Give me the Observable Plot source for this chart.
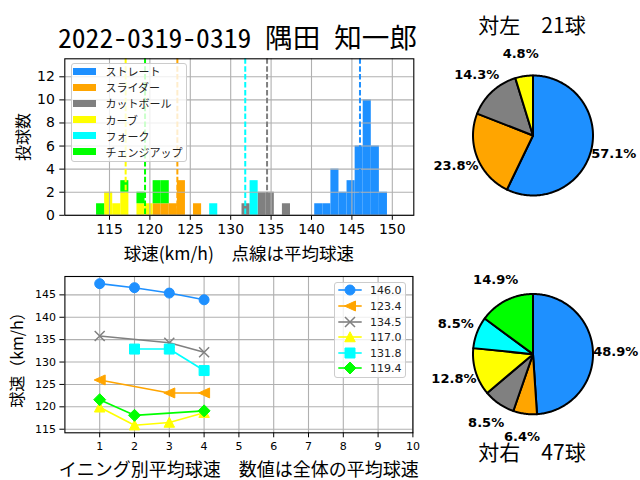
<!DOCTYPE html>
<html><head><meta charset="utf-8">
<script src="https://cdn.jsdelivr.net/npm/d3@7"></script>
<script src="https://cdn.jsdelivr.net/npm/@observablehq/plot@0.6"></script>
<style>
body{margin:0;background:#fff;}
#wrap{position:relative;width:640px;height:480px;overflow:hidden;font-family:"Noto Sans CJK JP",sans-serif;color:#000;}
#wrap > svg{position:absolute;left:0;top:0;}
.abs{position:absolute;white-space:nowrap;line-height:1;}
</style></head><body><div id="wrap"></div>
<script>
// ---------- data ----------
const pitchTypes = ["ストレート","スライダー","カットボール","カーブ","フォーク","チェンジアップ"];
const pitchColors = ["#1e90ff","#ffa500","#808080","#ffff00","#00ffff","#00ff00"];

// pitch speeds (km/h)
const straightSpeeds = [140.9,141.9,142.9,142.9,142.9,142.9,143.9,143.9,144.9,144.9,144.9,
  145.9,145.9,145.9,145.9,145.9,145.9,146.9,146.9,146.9,146.9,146.9,146.9,146.9,146.9,146.9,146.9,
  147.9,147.9,147.9,147.9,147.9,147.9,148.9,148.9];
const sliderSpeeds = [120.9,121.9,122.9,123.9,123.9,123.9,125.9];
const cutterSpeeds = [131.9,133.9,133.9,134.9,134.9,136.9];
const curveSpeeds = [114.9,114.9,115.9,116.9,116.9,118.9,119.9];
const forkSpeeds = [127.9,132.9,132.9,132.9];
const changeupSpeeds = [113.9,116.9,118.9,120.9,120.9,121.9,121.9];

// average speed per pitch (legend values / dashed lines)
const meanSpeeds = [146.0,123.4,134.5,117.0,131.8,119.4];

// average speed by inning (null = not thrown)
const innings = [1,2,3,4];
const straightByInning = [147.5,146.6,145.4,143.9];
const sliderByInning = [126.0,null,123.1,123.1];
const cutterByInning = [135.8,null,134.3,132.2];
const curveByInning = [119.9,115.9,116.5,118.7];
const forkByInning = [null,132.9,132.9,128.1];
const changeupByInning = [121.6,118.1,null,119.1];

// pitch counts vs left / right batters
const vsLeftCounts = [12,5,3,1,0,0];
const vsRightCounts = [23,3,4,6,4,7];

// ticks
const histXTicks = [115,120,125,130,135,140,145,150];
const histYTicks = [0,2,4,6,8,10,12];
const inningTicks = [1,2,3,4,5,6,7,8,9,10];
const speedTicks = [115,120,125,130,135,140,145];

// texts
const titleText = "2022-0319-0319 隅田 知一郎";
const histXLabel = "球速(km/h)　点線は平均球速";
const histYLabel = "投球数";
const lineXLabel = "イニング別平均球速　数値は全体の平均球速";
const lineYLabel = "球速（km/h）";
const leftPieTitle = "対左　21球";
const rightPieTitle = "対右　47球";

// ---------- build ----------
const wrap = document.getElementById("wrap");
const speedLists = [straightSpeeds,sliderSpeeds,cutterSpeeds,curveSpeeds,forkSpeeds,changeupSpeeds];
const inningLists = [straightByInning,sliderByInning,cutterByInning,curveByInning,forkByInning,changeupByInning];

const histRows = [];
pitchTypes.forEach((t,i)=>speedLists[i].forEach(v=>histRows.push({type:t, speed:v})));
const meanRows = pitchTypes.map((t,i)=>({type:t, mean:meanSpeeds[i]}));
const binEdges = d3.range(113.4, 149.45, 1);

const layerStyle = {background:"none", overflow:"visible", color:"black"};

const hist = Plot.plot({
  width:640, height:480,
  marginLeft:64.3, marginRight:226.7, marginTop:58.3, marginBottom:265.2,
  x:{domain:[109.47,152.66], ticks:histXTicks, tickSize:5, tickPadding:4, label:null},
  y:{domain:[0,13.56], ticks:histYTicks, tickSize:5, tickPadding:5, label:null},
  color:{domain:pitchTypes, range:pitchColors},
  style:{...layerStyle, background:"white", fontFamily:"DejaVu Sans", fontSize:"14px"},
  marks:[
    Plot.rectY(histRows, Plot.binX({y:"count"}, {x:"speed", fill:"type", thresholds:binEdges, domain:[113.4,149.4], inset:0})),
    Plot.ruleX(histXTicks, {stroke:"#b0b0b0", strokeWidth:1.1}),
    Plot.ruleY(histYTicks, {stroke:"#b0b0b0", strokeWidth:1.1}),
    Plot.ruleX(meanRows, {x:"mean", stroke:"type", strokeWidth:2, strokeDasharray:"5.5,2.4"}),
    Plot.frame({stroke:"black", strokeWidth:1.1})
  ]
});
wrap.appendChild(hist);

// custom symbols (r in px from area)
function mk(fn){ return {draw(c,size){ fn(c, Math.sqrt(size/Math.PI)); }}; }
const symLeft = mk((c,r)=>{c.moveTo(-r*1.1,0);c.lineTo(r*1.1,-r);c.lineTo(r*1.1,r);c.closePath();});
const symUp = mk((c,r)=>{c.moveTo(0,-r*1.05);c.lineTo(r*1.05,r*0.95);c.lineTo(-r*1.05,r*0.95);c.closePath();});
const symSquare = mk((c,r)=>{c.moveTo(-r,-r);c.lineTo(r,-r);c.lineTo(r,r);c.lineTo(-r,r);c.closePath();});
const symDiamond = mk((c,r)=>{const d=r*1.2;c.moveTo(0,-d);c.lineTo(d,0);c.lineTo(0,d);c.lineTo(-d,0);c.closePath();});
const symTimes = mk((c,r)=>{c.moveTo(-r,-r);c.lineTo(r,r);c.moveTo(-r,r);c.lineTo(r,-r);});
const symCircle = mk((c,r)=>{c.moveTo(r,0);c.arc(0,0,r,0,2*Math.PI);});
const pitchSymbols = [symCircle,symLeft,symTimes,symUp,symSquare,symDiamond];
const strokedOnly = [false,false,true,false,false,false];

const lineRows = [];
pitchTypes.forEach((t,i)=>innings.forEach((n,j)=>{const v=inningLists[i][j]; if(v!=null) lineRows.push({type:t, idx:i, inning:n, speed:v});}));

const lineMarks = [
  Plot.ruleX(inningTicks, {stroke:"#b0b0b0", strokeWidth:1.1}),
  Plot.ruleY(speedTicks, {stroke:"#b0b0b0", strokeWidth:1.1})
];
pitchTypes.forEach((t,i)=>{
  const rows = lineRows.filter(d=>d.idx===i);
  lineMarks.push(Plot.line(rows, {x:"inning", y:"speed", stroke:pitchColors[i], strokeWidth:1.6}));
  if (strokedOnly[i]) lineMarks.push(Plot.dot(rows, {x:"inning", y:"speed", symbol:pitchSymbols[i], r:5, stroke:pitchColors[i], strokeWidth:1.5, fill:"none"}));
  else lineMarks.push(Plot.dot(rows, {x:"inning", y:"speed", symbol:pitchSymbols[i], r:5, fill:pitchColors[i], stroke:pitchColors[i], strokeWidth:1}));
});
lineMarks.push(Plot.frame({stroke:"black", strokeWidth:1.1}));

const lineChart = Plot.plot({
  width:640, height:480,
  marginLeft:64.4, marginRight:227.6, marginTop:276, marginBottom:47.7,
  x:{domain:[0,10], ticks:inningTicks, tickSize:5, tickPadding:4, label:null},
  y:{domain:[114.2,149.1], ticks:speedTicks, tickSize:5, tickPadding:4, label:null},
  style:{...layerStyle, fontFamily:"DejaVu Sans", fontSize:"11px"},
  marks:lineMarks
});
wrap.appendChild(lineChart);

// pies
function pieData(counts){
  const total = d3.sum(counts); let cum = 0; const rows=[], labels=[];
  counts.forEach((c,i)=>{
    if(!c) return;
    const a0 = Math.PI/2 - cum/total*2*Math.PI; cum += c;
    const a1 = Math.PI/2 - cum/total*2*Math.PI;
    const n = Math.max(2, Math.ceil((a0-a1)/(Math.PI/180)));
    rows.push({slice:i, color:pitchColors[i], x:0, y:0});
    for(let k=0;k<=n;k++){const a=a0+(a1-a0)*k/n; rows.push({slice:i, color:pitchColors[i], x:Math.cos(a), y:Math.sin(a)});}
    rows.push({slice:i, color:pitchColors[i], x:0, y:0});
    const am=(a0+a1)/2;
    labels.push({x:1.38*Math.cos(am), y:1.38*Math.sin(am), text:(c/total*100).toFixed(1)+"%"});
  });
  return {rows, labels};
}
function pie(counts, top, bottom){
  const {rows, labels} = pieData(counts);
  return Plot.plot({
    width:640, height:480,
    marginLeft:472.5, marginRight:47.5, marginTop:top, marginBottom:480-bottom,
    x:{domain:[-1,1], axis:null}, y:{domain:[-1,1], axis:null},
    color:{type:"identity"},
    style:{...layerStyle, fontFamily:"DejaVu Sans"},
    marks:[
      Plot.line(rows, {x:"x", y:"y", z:"slice", fill:"color", stroke:"black", strokeWidth:2, strokeLinejoin:"round", strokeLinecap:"round"}),
      Plot.text(labels, {x:"x", y:"y", text:"text", fontSize:13, fontWeight:"bold", fill:"black"})
    ]
  });
}
wrap.appendChild(pie(vsLeftCounts, 75, 195));
wrap.appendChild(pie(vsRightCounts, 293.5, 413.8));

// texts
function addText(txt, x, y, css, rotate){
  const d = document.createElement("div"); d.className="abs"; d.textContent = txt;
  Object.assign(d.style, {left:x+"px", top:y+"px", transform:"translate(-50%,-50%)"+(rotate?" rotate(-90deg)":"")}, css);
  wrap.appendChild(d); return d;
}
// title
const ns="http://www.w3.org/2000/svg";
const tsvg = document.createElementNS(ns,"svg"); tsvg.setAttribute("width",640); tsvg.setAttribute("height",60);
tsvg.style.position="absolute"; tsvg.style.left="0"; tsvg.style.top="0"; tsvg.style.overflow="visible";
const tt = document.createElementNS(ns,"text");
tt.setAttribute("x",58); tt.setAttribute("y",48.3); tt.setAttribute("textLength",359); tt.setAttribute("lengthAdjust","spacingAndGlyphs");
tt.setAttribute("font-size",27); tt.setAttribute("font-family","'Noto Sans Mono CJK JP','DejaVu Sans Mono','Noto Sans CJK JP',monospace");
tt.textContent = titleText; tsvg.appendChild(tt); wrap.appendChild(tsvg);

addText(histXLabel, 238.8, 253, {fontSize:"17.5px"});
addText(histYLabel, 22.3, 136.5, {fontSize:"16px"}, true);
addText(lineXLabel, 238.8, 468, {fontSize:"18px"});
addText(lineYLabel, 15.5, 356, {fontSize:"16px"}, true);
addText(leftPieTitle, 532, 24, {fontSize:"21px"});
addText(rightPieTitle, 532, 451, {fontSize:"21px"});

// histogram legend
const hbox = document.createElement("div"); hbox.className="abs";
Object.assign(hbox.style,{left:"71px",top:"63.3px",width:"115.7px",height:"99px",background:"rgba(255,255,255,0.8)",border:"1px solid #cccccc",borderRadius:"3px",boxSizing:"border-box"});
wrap.appendChild(hbox);
pitchTypes.forEach((t,i)=>{
  const cy = 71.3 + i*16.08;
  const sw = document.createElement("div"); sw.className="abs";
  Object.assign(sw.style,{left:"73.3px",top:(cy-3.65)+"px",width:"22.4px",height:"7.3px",background:pitchColors[i]});
  wrap.appendChild(sw);
  const tx = document.createElement("div"); tx.className="abs"; tx.textContent=t;
  Object.assign(tx.style,{left:"105.5px",top:cy+"px",transform:"translateY(-50%)",fontSize:"11px",color:"#222"});
  wrap.appendChild(tx);
});

// line legend
const lbox = document.createElement("div"); lbox.className="abs";
Object.assign(lbox.style,{left:"334.3px",top:"281.7px",width:"71.7px",height:"96.6px",background:"rgba(255,255,255,0.8)",border:"1px solid #cccccc",borderRadius:"3px",boxSizing:"border-box"});
wrap.appendChild(lbox);
meanSpeeds.forEach((m,i)=>{
  const cy = 290.3 + i*15.6;
  const s = document.createElementNS(ns,"svg"); s.setAttribute("width",30); s.setAttribute("height",16);
  Object.assign(s.style,{position:"absolute",left:"335px",top:(cy-8)+"px",overflow:"visible"});
  const ln = document.createElementNS(ns,"line");
  ln.setAttribute("x1",3.3); ln.setAttribute("x2",26.7); ln.setAttribute("y1",8); ln.setAttribute("y2",8);
  ln.setAttribute("stroke",pitchColors[i]); ln.setAttribute("stroke-width",1.6); s.appendChild(ln);
  const p = document.createElementNS(ns,"path");
  p.setAttribute("d", d3.symbol(pitchSymbols[i], Math.PI*25)());
  p.setAttribute("transform","translate(15,8)");
  if (strokedOnly[i]) { p.setAttribute("fill","none"); p.setAttribute("stroke",pitchColors[i]); p.setAttribute("stroke-width",1.5); }
  else { p.setAttribute("fill",pitchColors[i]); p.setAttribute("stroke",pitchColors[i]); }
  s.appendChild(p); wrap.appendChild(s);
  const tx = document.createElement("div"); tx.className="abs"; tx.textContent=m.toFixed(1);
  Object.assign(tx.style,{left:"370px",top:cy+"px",transform:"translateY(-50%)",fontSize:"11px",fontFamily:"DejaVu Sans",color:"#222"});
  wrap.appendChild(tx);
});
</script></body></html>
